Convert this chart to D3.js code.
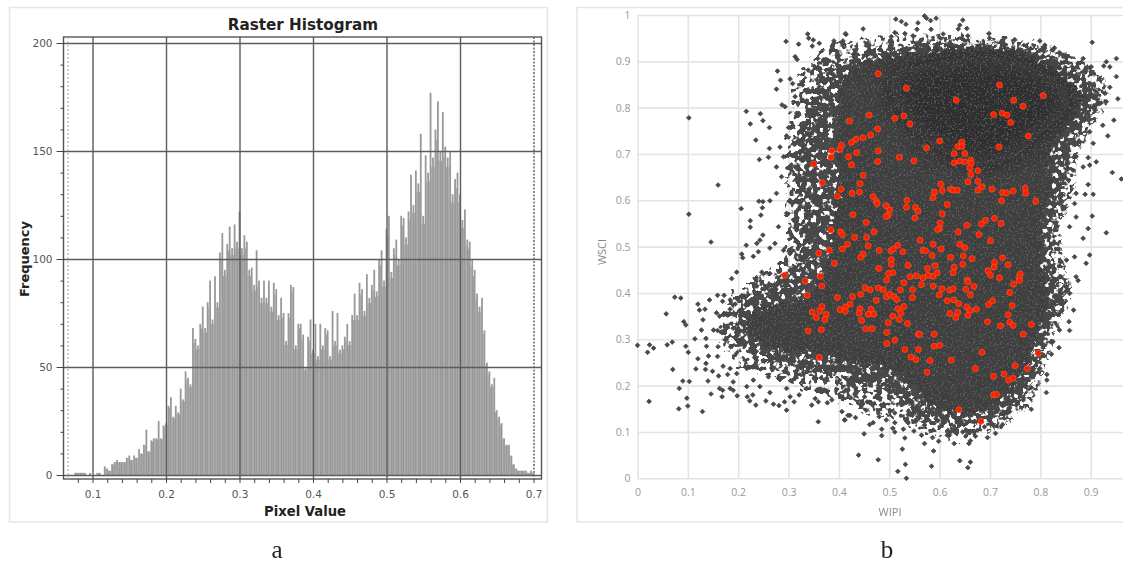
<!DOCTYPE html>
<html><head><meta charset="utf-8">
<script src="https://cdn.jsdelivr.net/npm/d3@7"></script>
<style>html,body{margin:0;padding:0;background:#fff}svg{display:block;filter:blur(.4px)}</style>
</head><body><div id="c"></div>
<script>
// ---------- panel a: raster histogram ----------
const histTitle = "Raster Histogram";
const histXLabel = "Pixel Value";
const histYLabel = "Frequency";
const histStart = 0.07;
const histBinWidth = 0.003333;
const histFreq = [
0,0,1,1,1,1,1,0,1,0,0,1,1,0,4,3,2,5,6,7,6,6,6,8,9,7,9,8,12,10,14,21,11,16,17,17,25,17,23,24,
32,36,27,32,29,40,35,48,45,42,68,63,60,70,78,68,80,90,72,92,80,103,112,95,107,115,105,116,108,122,
105,111,108,95,96,88,104,90,82,90,82,90,78,89,86,74,82,75,62,75,88,87,60,70,70,65,50,64,72,58,
70,55,70,60,68,67,55,76,62,75,58,60,64,70,62,74,84,74,89,86,76,93,82,88,95,85,100,104,90,114,
120,94,105,109,100,120,119,110,122,139,125,141,135,158,120,148,140,177,147,160,173,150,168,152,147,150,130,137,140,130,
118,123,109,108,100,95,84,78,82,67,52,48,42,45,30,27,24,17,14,14,9,5,3,2,2,2,2,1,2,1];
const histXTicks = [0.1,0.2,0.3,0.4,0.5,0.6,0.7];
const histYTicks = [0,50,100,150,200];
const histMarkers = [0.0667,0.7007];

// ---------- panel b: WIPI / WSCI scatter ----------
const scatterXLabel = "WIPI";
const scatterYLabel = "WSCI";
const scatterXTicks = [0,0.1,0.2,0.3,0.4,0.5,0.6,0.7,0.8,0.9];
const scatterYTicks = [0,0.1,0.2,0.3,0.4,0.5,0.6,0.7,0.8,0.9,1];
const panelLabels = ["a","b"];

// outlines of the area where the grey points merge into a solid cloud, from sparse to dense
const cloudFringe = [[.33,.88],[.38,.93],[.45,.945],[.52,.955],[.6,.955],[.7,.95],[.8,.94],[.86,.915],[.9,.89],[.94,.83],[.9,.75],[.875,.69],[.87,.62],[.845,.545],[.85,.46],[.865,.40],[.84,.335],[.825,.285],[.805,.22],[.785,.165],[.73,.115],[.67,.09],[.6,.09],[.55,.11],[.5,.13],[.44,.15],[.36,.185],[.27,.22],[.2,.25],[.165,.32],[.19,.385],[.24,.435],[.29,.47],[.3,.52],[.3,.6],[.3,.7],[.31,.8]];
const cloudOuter = [[.37,.87],[.45,.92],[.52,.93],[.6,.94],[.7,.935],[.8,.925],[.85,.9],[.88,.87],[.92,.82],[.88,.75],[.855,.69],[.85,.62],[.825,.545],[.83,.46],[.85,.40],[.825,.335],[.81,.285],[.79,.22],[.77,.18],[.72,.13],[.67,.115],[.6,.115],[.56,.135],[.52,.18],[.46,.2],[.42,.21],[.36,.225],[.27,.255],[.21,.29],[.19,.33],[.21,.375],[.25,.41],[.31,.45],[.33,.52],[.32,.6],[.32,.7],[.34,.8]];
const cloudDense = [[.41,.87],[.5,.91],[.6,.925],[.7,.925],[.78,.91],[.85,.86],[.885,.82],[.85,.76],[.82,.7],[.82,.62],[.8,.55],[.805,.45],[.815,.38],[.79,.3],[.76,.22],[.71,.16],[.66,.14],[.6,.15],[.56,.19],[.5,.235],[.42,.25],[.35,.27],[.27,.28],[.235,.3],[.22,.34],[.26,.37],[.33,.39],[.37,.44],[.39,.55],[.4,.65],[.4,.75]];
const cloudCore = [[.5,.86],[.6,.9],[.7,.91],[.8,.88],[.86,.82],[.8,.74],[.72,.68],[.66,.68],[.56,.74]];

const greyPoints = [
[.102,.778],[.160,.633],[.102,.570],[.146,.510],[.216,.792],[.244,.787],[.224,.765],[.249,.772],[.262,.757],[.235,.730],[.242,.688],[.262,.712],[.260,.693],[.295,.943],[.320,.937],[.278,.879],[.284,.859],[.276,.840],[.303,.862],[.308,.852],[.338,.959],[.340,.950],[.349,.946],[.347,.933],[.361,.939],[.390,.944],[.414,.958],[.408,.944],[.313,.910],[.317,.904],[.358,.906],[.369,.903],[.287,.806],[.293,.802],[.313,.824],[.328,.849],[.339,.881],[.356,.885],[.316,.788],[.329,.816],[.356,.860],[.300,.757],[.296,.739],[.283,.715],[.290,.694],[.276,.672],[.286,.651],[.276,.615],[.263,.599],[.241,.598],[.249,.597],[.206,.582],[.248,.584],[.245,.568],[.224,.556],[.224,.542],[.249,.525],[.243,.514],[.216,.503],[.237,.507],[.263,.497],[.207,.484],[.209,.476],[.230,.479],[.240,.489],[.197,.445],[.187,.431],[.263,.442],[.247,.445],[.290,.492],[.303,.485],[.273,.507],[.296,.572],[.280,.543],[.316,.536],[.323,.503],[.303,.600],[.323,.586],[.313,.672],[.323,.643],[.329,.708],
[0,.287],[.024,.288],[.020,.272],[.032,.281],[.023,.166],[.057,.355],[.074,.391],[.086,.389],[.059,.288],[.069,.294],[.070,.235],[.090,.210],[.103,.209],[.083,.194],[.098,.173],[.082,.150],[.100,.156],[.129,.144],[.092,.338],[.096,.331],[.096,.285],[.101,.272],[.114,.301],[.120,.376],[.123,.363],[.134,.365],[.130,.342],[.127,.320],[.136,.302],[.137,.285],[.141,.264],[.136,.248],[.120,.258],[.116,.236],[.135,.235],[.149,.231],[.140,.210],[.146,.182],[.159,.263],[.160,.284],[.143,.385],[.159,.395],[.172,.395],[.169,.382],[.184,.385],[.194,.376],[.207,.391],[.157,.357],[.163,.350],[.172,.356],[.184,.365],[.151,.320],[.159,.319],[.176,.300],[.190,.324],[.200,.298],[.185,.284],[.161,.221],[.163,.194],[.168,.176],[.169,.190],[.184,.194],[.190,.190],[.198,.178],[.190,.208],[.179,.224],[.170,.242],[.184,.237],[.197,.226],[.217,.198],[.218,.176],[.229,.180],[.223,.167],[.235,.158],[.255,.167],[.270,.160],[.281,.157],[.296,.147],[.292,.165],[.303,.176],[.311,.165],[.321,.180],[.346,.158],[.353,.172],[.359,.122],[.359,.165],[.377,.163],[.386,.169],[.412,.126],[.422,.136],[.406,.144],[.296,.194],[.263,.185],[.243,.198],[.260,.219],[.280,.216],[.336,.194],[.356,.190],[.376,.187],[.217,.237],[.230,.212],
[.534,0],[.517,.015],[.532,.030],[.584,.026],[.640,.038],[.661,.035],[.656,.023],[.439,.050],[.478,.040],[.526,.063],[.588,.059],[.570,.075],[.598,.080],[.629,.075],[.658,.075],[.661,.081],[.695,.088],[.711,.097],[.671,.091],[.450,.096],[.485,.092],[.485,.106],[.531,.087],[.528,.106],[.511,.100],[.507,.108],[.549,.102],[.564,.093],[.586,.088],[.615,.093],[.646,.100],[.725,.116],[.689,.111],[.468,.120],[.461,.116],[.480,.133],[.494,.126],[.511,.120],[.511,.141],[.418,.136],[.433,.131],[.546,.136],[.557,.133],[.570,.115],[.411,.126],[.782,.149],[.812,.185],[.813,.212],[.813,.224],[.782,.196],[.799,.237],[.822,.268],[.837,.282],[.825,.295],[.858,.319],[.866,.363],[.857,.338],[.838,.320],[.845,.378],[.858,.399],[.875,.427],[.739,.144],[.752,.158],[.766,.169],[.451,.176],[.456,.165],[.567,.162],[.587,.151],[.607,.133],[.501,.176],[.484,.158],[.454,.147],
[.513,.991],[.524,.986],[.533,.980],[.570,.998],[.574,.993],[.582,.988],[.593,.993],[.557,.983],[.555,.969],[.646,.989],[.640,.978],[.637,.970],[.654,.971],[.448,.970],[.413,.960],[.511,.962],[.504,.953],[.531,.960],[.547,.955],[.583,.969],[.607,.959],[.656,.955],[.698,.960],[.699,.950],[.749,.947],[.799,.944],[.809,.935],[.828,.929],[.838,.919],[.850,.910],[.847,.898],[.885,.906],[.875,.896],[.903,.941],[.931,.899],[.951,.906],[.926,.890],[.938,.888],[.951,.867],[.938,.844],[.954,.819],[.931,.813],[.928,.831],[.918,.863],[.901,.888],[.946,.773],[.924,.762],[.934,.739],[.898,.748],[.888,.773],[.905,.723],[.943,.660],[.961,.646],[.911,.683],[.895,.692],[.898,.676],[.895,.634],[.889,.613],[.905,.613],[.871,.615],[.868,.593],[.903,.566],[.931,.530],[.895,.539],[.885,.518],[.898,.482],[.891,.464],[.868,.478],[.871,.435],[.858,.543],[.871,.564],[.852,.471],[.845,.586],[.865,.665],[.871,.694],[.852,.716],[.885,.672],[.871,.795],[.908,.795],[.918,.809]];

const redPoints = [
[.421,.771],[.460,.784],[.511,.777],[.529,.782],[.541,.765],[.477,.754],[.463,.741],[.448,.735],[.434,.732],[.425,.725],[.405,.719],[.402,.710],[.386,.707],[.384,.693],[.419,.694],[.435,.703],[.478,.707],[.477,.684],[.425,.677],[.520,.693],[.549,.685],[.350,.678],[.367,.638],[.448,.654],[.442,.636],[.404,.624],[.397,.609],[.426,.615],[.441,.618],[.468,.608],[.474,.598],[.476,.593],[.494,.588],[.501,.579],[.498,.568],[.494,.565],[.535,.600],[.534,.585],[.552,.585],[.557,.577],[.551,.562],[.428,.569],[.454,.552],[.384,.536],[.403,.532],[.407,.526],[.431,.520],[.470,.532],[.455,.520],[.458,.502],[.417,.505],[.407,.495],[.381,.492],[.360,.486],[.480,.492],[.503,.491],[.508,.495],[.517,.503],[.527,.489],[.561,.514],[.448,.484],[.443,.477],[.391,.464],[.504,.472],[.504,.462],[.537,.460],[.479,.453],[.507,.444],[.498,.442],[.292,.438],[.363,.436],[.333,.426],[.366,.415],[.495,.428],[.541,.435],[.554,.437],[.529,.422],[.337,.395],[.397,.390],[.427,.392],[.443,.397],[.452,.411],[.462,.407],[.478,.411],[.488,.407],[.494,.392],[.501,.397],[.509,.392],[.515,.386],[.522,.407],[.546,.407],[.546,.390],[.474,.384],[.422,.376],[.413,.370],[.402,.364],[.413,.361],[.442,.366],[.440,.356],[.464,.365],[.458,.354],[.469,.354],[.366,.371],[.362,.361],[.347,.359],[.375,.354],[.355,.347],[.372,.343],[.445,.341],[.529,.371],[.517,.366],[.523,.357],[.507,.350],[.520,.343],[.498,.336],[.536,.334],[.453,.323],[.466,.323],[.365,.321],[.339,.318],[.495,.315],[.558,.311],[.511,.298],[.495,.291],[.531,.278],[.558,.278],[.543,.262],[.553,.256],[.361,.261],
[.478,.873],[.534,.842],[.633,.816],[.719,.849],[.747,.816],[.766,.803],[.806,.826],[.707,.785],[.724,.788],[.734,.784],[.741,.768],[.776,.739],[.574,.713],[.600,.728],[.644,.726],[.636,.716],[.644,.716],[.629,.701],[.650,.701],[.629,.681],[.640,.685],[.650,.683],[.662,.687],[.663,.680],[.660,.670],[.676,.664],[.662,.656],[.656,.640],[.676,.641],[.684,.629],[.676,.622],[.704,.624],[.718,.715],[.602,.635],[.590,.618],[.605,.621],[.587,.606],[.622,.624],[.627,.622],[.635,.622],[.725,.617],[.733,.616],[.746,.620],[.770,.626],[.771,.615],[.723,.599],[.791,.598],[.615,.591],[.605,.571],[.601,.551],[.600,.539],[.596,.537],[.637,.532],[.654,.546],[.678,.526],[.683,.549],[.691,.557],[.709,.561],[.722,.550],[.701,.513],[.587,.505],[.567,.492],[.572,.491],[.603,.495],[.585,.481],[.640,.505],[.650,.498],[.647,.480],[.622,.477],[.664,.474],[.725,.476],[.709,.466],[.708,.456],[.736,.461],[.646,.462],[.629,.456],[.591,.459],[.576,.453],[.696,.448],[.627,.444],[.701,.438],[.760,.441],[.758,.433],[.719,.433],[.595,.443],[.586,.436],[.577,.438],[.567,.433],[.655,.428],
[.656,.424],[.759,.427],[.747,.419],[.739,.401],[.668,.414],[.652,.408],[.661,.396],[.564,.418],[.587,.415],[.605,.409],[.620,.406],[.627,.409],[.599,.396],[.615,.383],[.628,.385],[.638,.377],[.697,.375],[.705,.383],[.744,.373],[.654,.370],[.660,.362],[.673,.365],[.636,.358],[.620,.356],[.632,.347],[.656,.352],[.736,.353],[.695,.338],[.739,.337],[.746,.330],[.721,.329],[.782,.332],[.766,.311],[.589,.311],[.560,.311],[.589,.285],[.600,.287],[.684,.272],[.796,.270],[.581,.254],[.623,.255],[.671,.237],[.750,.243],[.774,.237],[.575,.229],[.707,.220],[.728,.225],[.737,.212],[.746,.216],[.707,.180],[.713,.181],[.638,.148],[.682,.123]];

// ---------- drawing ----------
const W = 1123, H = 562;
const svg = d3.select("#c").append("svg").attr("width",W).attr("height",H);
const defs = svg.append("defs");

// roughens a cloud outline and punches gaps in it, the look of thousands of overlapping points
function cloudFilter(id,freq,seed,disp,row){
  const f = defs.append("filter").attr("id",id).attr("x","-10%").attr("y","-10%").attr("width","120%").attr("height","120%")
    .attr("color-interpolation-filters","sRGB");
  f.append("feTurbulence").attr("type","fractalNoise").attr("baseFrequency",freq).attr("numOctaves",2).attr("seed",seed).attr("result","n");
  f.append("feDisplacementMap").attr("in","SourceGraphic").attr("in2","n").attr("scale",disp).attr("xChannelSelector","R").attr("yChannelSelector","G").attr("result","d");
  f.append("feColorMatrix").attr("in","n").attr("type","matrix").attr("values","0 0 0 0 0  0 0 0 0 0  0 0 0 0 0  "+row).attr("result","m");
  f.append("feComposite").attr("in","d").attr("in2","m").attr("operator","in");
}
cloudFilter("laceSparse",0.17,4,18,"14 0 0 0 -6.6");
cloudFilter("laceMid",0.18,11,16,"14 0 0 0 -5.7");
cloudFilter("solidEdge",0.2,7,14,"0 0 0 0 1");
cloudFilter("specks",0.55,9,0,"12 0 0 0 -7.0");
defs.append("filter").attr("id","soft").attr("x","-30%").attr("y","-30%").attr("width","160%").attr("height","160%").append("feGaussianBlur").attr("stdDeviation",12);

// panel a
svg.append("rect").attr("x",9.5).attr("y",7.5).attr("width",538).attr("height",514.5).attr("fill","#fff").attr("stroke","#e6e6e6").attr("stroke-width",1.5);
const hx = d3.scaleLinear().domain([0.1,0.6]).range([92.5,460]);
const hy = d3.scaleLinear().domain([0,200]).range([475,43]);
const hLeft=63.5, hRight=541.5, hTop=37, hBottom=479;
const hBar = svg.append("g");
hBar.selectAll("rect").data(histFreq).join("rect")
  .attr("x",(d,i)=>hx(histStart+i*histBinWidth)-0.9).attr("width",1.8)
  .attr("y",d=>hy(d)).attr("height",d=>hy(0)-hy(d))
  .attr("fill","#8b8b8b").attr("fill-opacity",.88);
hBar.selectAll("line").data(histFreq).join("line")
  .attr("x1",(d,i)=>hx(histStart+(i+.5)*histBinWidth)).attr("x2",(d,i)=>hx(histStart+(i+.5)*histBinWidth))
  .attr("y1",(d,i)=>hy(Math.min(d,histFreq[i+1]===undefined?0:histFreq[i+1])*.97)).attr("y2",hy(0))
  .attr("stroke","#979797").attr("stroke-width",.9);

const gridC="#5c5c5c";
const hGridX = svg.append("g").attr("transform",`translate(0,${hBottom})`)
  .call(d3.axisBottom(hx).tickValues(histXTicks.slice(0,-1)).tickSize(-(hBottom-hTop)).tickFormat(""));
hGridX.select(".domain").remove();
hGridX.selectAll("line").attr("stroke",gridC).attr("stroke-width",1.4);
const hGridY = svg.append("g").attr("transform",`translate(${hLeft},0)`)
  .call(d3.axisLeft(hy).tickValues(histYTicks).tickSize(-(hRight-hLeft)).tickFormat(""));
hGridY.select(".domain").remove();
hGridY.selectAll("line").attr("stroke",gridC).attr("stroke-width",1.4);
svg.append("rect").attr("x",hLeft).attr("y",hTop).attr("width",hRight-hLeft).attr("height",hBottom-hTop)
  .attr("fill","none").attr("stroke","#555").attr("stroke-width",1.4);
svg.append("line").attr("x1",hx(histMarkers[0])).attr("x2",hx(histMarkers[0])).attr("y1",hTop).attr("y2",hBottom)
  .attr("stroke","#b5b5b5").attr("stroke-width",1.2).attr("stroke-dasharray","2 2");
svg.append("line").attr("x1",hx(histMarkers[1])).attr("x2",hx(histMarkers[1])).attr("y1",hTop).attr("y2",hBottom)
  .attr("stroke","#666").attr("stroke-width",1.5).attr("stroke-dasharray","2 1.5");
const hAxisX = svg.append("g").attr("transform",`translate(0,${hBottom})`)
  .call(d3.axisBottom(hx).tickValues(d3.range(0.08,0.701,0.02)).tickSize(4).tickFormat(""));
hAxisX.select(".domain").remove();
hAxisX.selectAll("line").attr("stroke","#444").attr("stroke-width",1);
const hLabX = svg.append("g").attr("transform",`translate(0,${hBottom})`)
  .call(d3.axisBottom(hx).tickValues(histXTicks).tickSize(0).tickPadding(12).tickFormat(d3.format(".1f")));
hLabX.select(".domain").remove();
hLabX.selectAll("text").attr("font-family","DejaVu Sans").attr("font-size",10.5).attr("fill","#555");
const hMinorY = svg.append("g").attr("transform",`translate(${hLeft},0)`)
  .call(d3.axisLeft(hy).tickValues(d3.range(0,201,10)).tickSize(3).tickFormat(""));
hMinorY.select(".domain").remove();
hMinorY.selectAll("line").attr("stroke","#444");
const hLabY = svg.append("g").attr("transform",`translate(${hLeft},0)`)
  .call(d3.axisLeft(hy).tickValues(histYTicks).tickSize(7).tickPadding(4));
hLabY.select(".domain").remove();
hLabY.selectAll("line").attr("stroke","#444");
hLabY.selectAll("text").attr("font-family","DejaVu Sans").attr("font-size",10.5).attr("fill","#555");

svg.append("text").attr("x",303).attr("y",29.5).attr("text-anchor","middle").attr("font-family","DejaVu Sans").attr("font-weight","bold").attr("font-size",15.2).attr("fill","#222").text(histTitle);
svg.append("text").attr("x",305).attr("y",516).attr("text-anchor","middle").attr("font-family","DejaVu Sans").attr("font-weight","bold").attr("font-size",13.2).attr("fill","#222").text(histXLabel);
svg.append("text").attr("transform","translate(29,259) rotate(-90)").attr("text-anchor","middle").attr("font-family","DejaVu Sans").attr("font-weight","bold").attr("font-size",13).attr("fill","#222").text(histYLabel);

// panel b
svg.append("rect").attr("x",577).attr("y",7.5).attr("width",560).attr("height",514.5).attr("fill","#fff").attr("stroke","#e6e6e6").attr("stroke-width",1.5);
const sx = d3.scaleLinear().domain([0,0.9]).range([637.5,1090.7]);
const sy = d3.scaleLinear().domain([0,1]).range([478.3,15]);
const sBottom = sy(0), sLeft = sx(0), sRight = 1130;
const sGridX = svg.append("g").attr("transform",`translate(0,${sBottom})`)
  .call(d3.axisBottom(sx).tickValues(scatterXTicks).tickSize(-(sBottom-sy(1))).tickPadding(10).tickFormat(d=>d));
sGridX.select(".domain").remove();
sGridX.selectAll("line").attr("stroke","#e4e4e4").attr("stroke-width",1.6);
const sGridY = svg.append("g").attr("transform",`translate(${sLeft},0)`)
  .call(d3.axisLeft(sy).tickValues(scatterYTicks).tickSize(-(sRight-sLeft)).tickPadding(7).tickFormat(d=>d));
sGridY.select(".domain").remove();
sGridY.selectAll("line").attr("stroke","#e4e4e4").attr("stroke-width",1.6);
[sGridX,sGridY].forEach(g=>g.selectAll("text").attr("font-family","Open Sans").attr("font-size",10.5).attr("fill","#999"));

const cloudPath = d3.line().x(d=>sx(d[0])).y(d=>sy(d[1])).curve(d3.curveCatmullRomClosed.alpha(.5));
svg.append("path").attr("d",cloudPath(cloudFringe)).attr("fill","#4b4b4b").attr("filter","url(#laceSparse)");
svg.append("path").attr("d",cloudPath(cloudOuter)).attr("fill","#484848").attr("filter","url(#laceMid)");
svg.append("path").attr("d",cloudPath(cloudDense)).attr("fill","#3f3f3f").attr("filter","url(#solidEdge)");
svg.append("path").attr("d",cloudPath(cloudCore)).attr("fill","#1e1e1e").attr("fill-opacity",.42).attr("filter","url(#soft)");
svg.append("path").attr("d",cloudPath(cloudDense)).attr("fill","#686868").attr("fill-opacity",.7).attr("filter","url(#specks)");

const diamond = d3.symbol().type(d3.symbolSquare).size(11);
svg.append("g").selectAll("path").data(greyPoints).join("path")
  .attr("d",diamond).attr("transform",d=>`translate(${sx(d[0])},${sy(d[1])}) rotate(45)`)
  .attr("fill","#484848").attr("stroke","#484848").attr("stroke-width",.8).attr("stroke-linejoin","round");
svg.append("g").selectAll("circle").data(redPoints).join("circle")
  .attr("cx",d=>sx(d[0])).attr("cy",d=>sy(d[1])).attr("r",3)
  .attr("fill","#ff1d00").attr("stroke","#e8622e").attr("stroke-width",.7);

svg.append("text").attr("x",890).attr("y",516).attr("text-anchor","middle").attr("font-family","Open Sans").attr("font-size",11).attr("fill","#888").text(scatterXLabel);
svg.append("text").attr("transform","translate(606,252) rotate(-90)").attr("text-anchor","middle").attr("font-family","Open Sans").attr("font-size",11).attr("fill","#888").text(scatterYLabel);

// panel letters
svg.append("text").attr("x",277).attr("y",558).attr("text-anchor","middle").attr("font-family","Liberation Serif").attr("font-size",25).attr("fill","#222").text(panelLabels[0]);
svg.append("text").attr("x",887).attr("y",558).attr("text-anchor","middle").attr("font-family","Liberation Serif").attr("font-size",25).attr("fill","#222").text(panelLabels[1]);
</script></body></html>
